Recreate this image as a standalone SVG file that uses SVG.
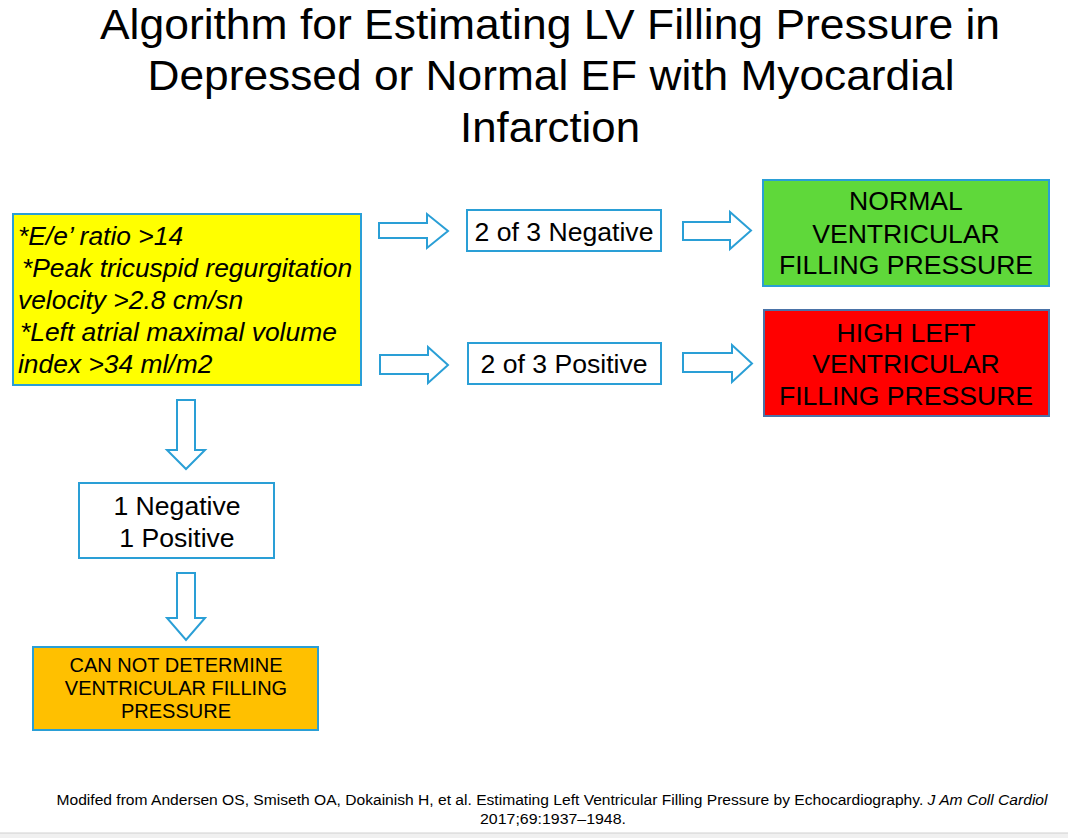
<svg xmlns="http://www.w3.org/2000/svg" width="1068" height="838" viewBox="0 0 1068 838">
<style>
  text { font-family: "Liberation Sans", Arial, sans-serif; fill: #000; }
  .title { font-size: 42px; text-anchor: middle; }
  .box { stroke: #2a9fd6; stroke-width: 2; }
  .arrow { fill: #fff; stroke: #2a9fd6; stroke-width: 2; stroke-linejoin: miter; }
  .lbl { font-size: 26.6px; text-anchor: middle; }
  .crit { font-size: 26.4px; font-style: italic; }
  .small { font-size: 20px; text-anchor: middle; }
  .foot { font-size: 14px; text-anchor: middle; }
</style>
<rect x="0" y="0" width="1068" height="838" fill="#fff"/>
<rect x="0" y="833" width="1068" height="5" fill="#f0f0f0"/>
<line x1="0" y1="833" x2="1068" y2="833" stroke="#d0d0d0" stroke-width="1"/>

<g id="title">
  <text class="title" x="550" y="39" textLength="900" lengthAdjust="spacingAndGlyphs">Algorithm for Estimating LV Filling Pressure in</text>
  <text class="title" x="551" y="90" textLength="807" lengthAdjust="spacingAndGlyphs">Depressed or Normal EF with Myocardial</text>
  <text class="title" x="550" y="142" textLength="180" lengthAdjust="spacingAndGlyphs">Infarction</text>
</g>

<g id="criteria">
  <rect class="box" x="13" y="214" width="348" height="171" fill="#ffff00"/>
  <text class="crit" x="18" y="245">*E/e’ ratio &gt;14</text>
  <text class="crit" x="22" y="277">*Peak tricuspid regurgitation</text>
  <text class="crit" x="18" y="309">velocity &gt;2.8 cm/sn</text>
  <text class="crit" x="20" y="341">*Left atrial maximal volume</text>
  <text class="crit" x="18" y="373">index &gt;34 ml/m2</text>
</g>

<g id="negative">
  <rect class="box" x="467" y="210" width="194" height="41" fill="#fff"/>
  <text class="lbl" x="564" y="241">2 of 3 Negative</text>
</g>

<g id="positive">
  <rect class="box" x="468" y="343" width="193" height="41" fill="#fff"/>
  <text class="lbl" x="564" y="373">2 of 3 Positive</text>
</g>

<g id="normal">
  <rect class="box" x="763" y="180" width="286" height="106" fill="#5fd83a"/>
  <text class="lbl" x="906" y="210">NORMAL</text>
  <text class="lbl" x="906" y="243">VENTRICULAR</text>
  <text class="lbl" x="906" y="274">FILLING PRESSURE</text>
</g>

<g id="high">
  <rect x="764" y="310" width="285" height="106" fill="#ff0000" stroke="#4a73a8" stroke-width="2"/>
  <text class="lbl" x="906" y="342">HIGH LEFT</text>
  <text class="lbl" x="906" y="373">VENTRICULAR</text>
  <text class="lbl" x="906" y="405">FILLING PRESSURE</text>
</g>

<g id="mixed">
  <rect class="box" x="79" y="483" width="195" height="75" fill="#fff"/>
  <text class="lbl" x="177" y="515">1 Negative</text>
  <text class="lbl" x="177" y="547">1 Positive</text>
</g>

<g id="undetermined">
  <rect class="box" x="33" y="647" width="285" height="83" fill="#ffc000"/>
  <text class="small" x="176" y="672">CAN NOT DETERMINE</text>
  <text class="small" x="176" y="695">VENTRICULAR FILLING</text>
  <text class="small" x="176" y="718">PRESSURE</text>
</g>

<g id="connectors">
  <path class="arrow" d="M379,223 H427 V214 L448,231 L427,248 V238 H379 Z"/>
  <path class="arrow" d="M683,222 H730 V212 L751,230.5 L730,249 V240 H683 Z"/>
  <path class="arrow" d="M380,355 H428 V347 L448,365 L428,383 V374 H380 Z"/>
  <path class="arrow" d="M683,353 H732 V345 L752,363.5 L732,382 V372 H683 Z"/>
  <path class="arrow" d="M177,400 H195 V450 H205 L186,469 L167,450 H177 Z"/>
  <path class="arrow" d="M177,573 H195 V618 H205 L186,640 L167,618 H177 Z"/>
</g>

<g id="footer">
  <text class="foot" x="552" y="805" textLength="991" lengthAdjust="spacingAndGlyphs">Modifed from Andersen OS, Smiseth OA, Dokainish H, et al. Estimating Left Ventricular Filling Pressure by Echocardiography. <tspan font-style="italic">J Am Coll Cardiol</tspan></text>
  <text class="foot" x="553" y="824" textLength="146" lengthAdjust="spacingAndGlyphs">2017;69:1937–1948.</text>
</g>
</svg>
